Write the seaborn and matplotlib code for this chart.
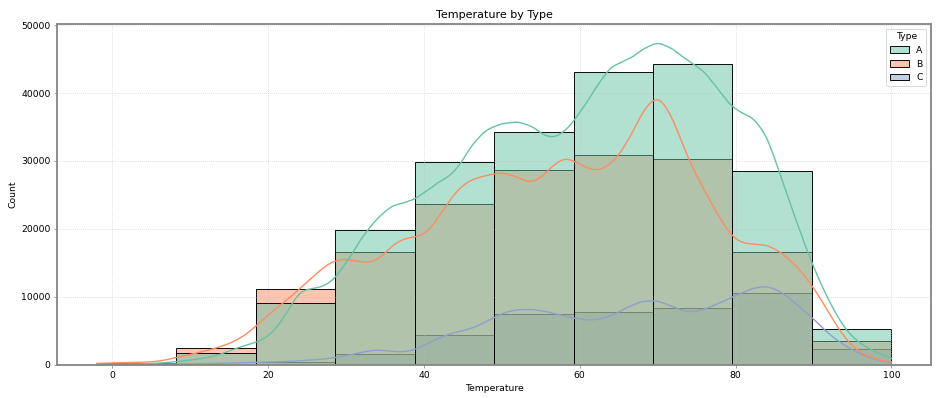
"""
Temperature histogram by type, with smoothed count curves.
"""

import matplotlib

matplotlib.use("Agg")

import matplotlib.pyplot as plt
import pandas as pd
import seaborn as sns

TYPES = ["A", "B", "C"]

# histogram: 10 bins over the temperature range
TEMP_MIN, TEMP_MAX = -2.0, 100.0
BIN_CENTERS = [3.1, 13.3, 23.5, 33.7, 43.9, 54.1, 64.3, 74.5, 84.7, 94.9]
COUNTS_A = [150, 1680, 9040, 19840, 29800, 34320, 43060, 44240, 28480, 5260]
COUNTS_B = [250, 2415, 11150, 16550, 23670, 28630, 30890, 30340, 16550, 3450]
COUNTS_C = [30, 60, 440, 1530, 4370, 7470, 7720, 8310, 10520, 2270]

CURVE_STEP = 2
CURVE_X = [-2, 0, 2, 4, 6, 8, 10, 12, 14, 16, 18, 20, 22, 24, 26, 28, 30,
           32, 34, 36, 38, 40, 42, 44, 46, 48, 50, 52, 54, 56, 58, 60, 62,
           64, 66, 68, 70, 72, 74, 76, 78, 80, 82, 84, 86, 88, 90, 92, 94,
           96, 98, 100]
CURVE_A = [40, 40, 60, 100, 200, 400, 650, 950, 1500, 2500, 3100, 3900,
           6600, 11300, 11100, 11800, 14800, 18800, 21600, 23700, 23800,
           25200, 27100, 28000, 32300, 34800, 35500, 35900, 35200, 33000,
           34000, 37000, 40600, 44300, 44600, 46400, 47800, 46500, 44600,
           43400, 40100, 37200, 36800, 34200, 27000, 20500, 14200, 9300,
           5100, 3000, 1800, 950]
CURVE_B = [200, 230, 280, 340, 430, 1000, 1500, 2000, 2650, 3500, 5100,
           7400, 9100, 11100, 13200, 15300, 15700, 15000, 14900, 17900,
           18900, 18600, 21800, 25600, 27400, 27800, 28500, 27700, 26200,
           28700, 31000, 29500, 28200, 29300, 32200, 37300, 40600, 36400,
           29800, 25700, 21400, 17900, 17700, 17800, 16500, 14400, 11500,
           7600, 3700, 1600, 800, 300]
CURVE_C = [20, 30, 40, 50, 60, 80, 110, 150, 200, 250, 320, 380, 420, 550,
           700, 900, 1300, 1800, 2250, 1900, 1800, 2800, 4000, 4800, 5200,
           6300, 7600, 8150, 8150, 7750, 7150, 6650, 6480, 7100, 8400, 9400,
           9500, 8500, 7550, 8100, 9100, 10150, 11200, 11700, 10700, 8700,
           6800, 4400, 2800, 1500, 700, 200]


def build_frames():
    hist_rows = []
    for t, counts in zip(TYPES, [COUNTS_A, COUNTS_B, COUNTS_C]):
        for c, n in zip(BIN_CENTERS, counts):
            hist_rows.append({"Temperature": c, "Count": n, "Type": t})
    curve_rows = []
    for t, vals in zip(TYPES, [CURVE_A, CURVE_B, CURVE_C]):
        for x, v in zip(CURVE_X, vals):
            curve_rows.append({"Temperature": x, "Count": v, "Type": t})
    return pd.DataFrame(hist_rows), pd.DataFrame(curve_rows)


def main():
    hist_df, curve_df = build_frames()

    fig, ax = plt.subplots(figsize=(14, 5.953), dpi=936 / 14)
    fig.subplots_adjust(left=0.061, right=0.9947, bottom=0.084, top=0.94)

    # bars
    sns.histplot(
        data=hist_df,
        x="Temperature",
        weights="Count",
        hue="Type",
        hue_order=TYPES,
        bins=10,
        binrange=(TEMP_MIN, TEMP_MAX),
        palette="Set2",
        edgecolor="black",
        ax=ax,
    )

    # smooth curves: kde of the read-off curve, scaled back to counts
    # (step outline is hidden, only the kde line shows)
    sns.histplot(
        data=curve_df,
        x="Temperature",
        weights="Count",
        hue="Type",
        hue_order=TYPES,
        binwidth=CURVE_STEP,
        palette="Set2",
        element="step",
        fill=False,
        linewidth=0,
        kde=True,
        kde_kws={"bw_method": 0.07, "cut": 0, "gridsize": 400},
        line_kws={"linewidth": 1.5},
        common_norm=False,
        legend=False,
        ax=ax,
    )

    ax.set_title("Temperature by Type")
    ax.set_xlabel("Temperature")
    ax.set_ylabel("Count")
    ax.set_xticks([0, 20, 40, 60, 80, 100])
    ax.grid(True, linestyle=":", color="#bbbbbb", alpha=0.7)
    for s in ax.spines.values():
        s.set_color("#888888")
        s.set_linewidth(2)
    ax.tick_params(color="#888888")

    leg = ax.get_legend()
    if leg is not None:
        leg.set_loc("upper right")

    fig.savefig("out.png", dpi=936 / 14)
    plt.close(fig)


if __name__ == "__main__":
    main()
